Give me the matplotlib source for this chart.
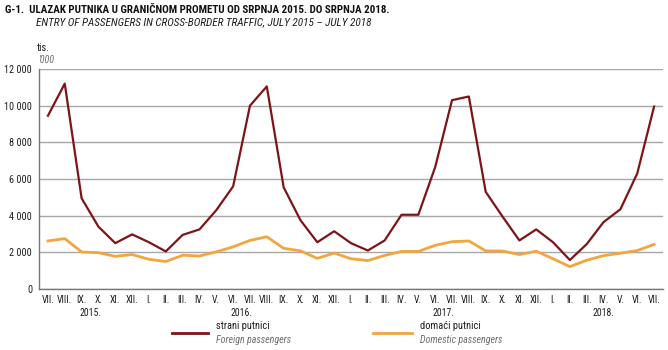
import matplotlib
matplotlib.use("Agg")
import matplotlib.pyplot as plt
import matplotlib.transforms as mtransforms
from matplotlib.lines import Line2D

plt.rcParams['font.family'] = ['Roboto Condensed', 'DejaVu Sans']

months = ["VII.", "VIII.", "IX.", "X.", "XI.", "XII.",
          "I.", "II.", "III.", "IV.", "V.", "VI.", "VII.", "VIII.", "IX.", "X.", "XI.", "XII.",
          "I.", "II.", "III.", "IV.", "V.", "VI.", "VII.", "VIII.", "IX.", "X.", "XI.", "XII.",
          "I.", "II.", "III.", "IV.", "V.", "VI.", "VII."]
years = ["2015.", "2016.", "2017.", "2018."]
year_centers = [2.5, 11.5, 23.5, 33.0]

foreign = [9450, 11200, 4950, 3400, 2500, 2980,
           2550, 2050, 2950, 3250, 4300, 5600, 10000, 11050, 5550, 3750, 2550, 3150,
           2500, 2100, 2650, 4050, 4050, 6650, 10300, 10500, 5300, 3950, 2650, 3250,
           2550, 1580, 2450, 3650, 4350, 6300, 9950]
domestic = [2620, 2750, 2020, 1980, 1780, 1880,
            1620, 1500, 1840, 1800, 2030, 2300, 2650, 2850, 2220, 2080, 1670, 1960,
            1650, 1550, 1830, 2050, 2050, 2380, 2580, 2620, 2080, 2070, 1880, 2060,
            1650, 1220, 1570, 1820, 1950, 2100, 2430]
yticks = [0, 2000, 4000, 6000, 8000, 10000, 12000]
ytick_labels = ["0", "2 000", "4 000", "6 000", "8 000", "10 000", "12 000"]

C_FOR = "#7d1518"
C_DOM = "#f2a540"
TXT = "#1e1e1e"
GREY = "#6e6e6e"

W, H = 668, 350
fig = plt.figure(figsize=(W / 100, H / 100), dpi=100)
ax = fig.add_axes([39 / W, 1 - 289 / H, (663 - 39) / W, (289 - 69) / H])

x = list(range(len(months)))
ax.plot(x, foreign, color=C_FOR, lw=1.6, zorder=3)
ax.plot(x, domestic, color=C_DOM, lw=2.0, zorder=3)

ax.set_xlim(-0.53, 36.53)
ax.set_ylim(0, 12000)
ax.set_yticks(yticks)
ax.set_yticklabels(ytick_labels, fontsize=7.3, color=TXT)
ax.set_xticks(x)
ax.set_xticklabels(months, fontsize=7, color=TXT)
ax.tick_params(axis='y', length=0, pad=5)
ax.tick_params(axis='x', length=0, pad=4)
ax.yaxis.grid(True, color="#a8a8a8", lw=1.0)
ax.set_axisbelow(True)
for s in ["top", "right"]:
    ax.spines[s].set_visible(False)
for s in ["left", "bottom"]:
    ax.spines[s].set_color("#777777")
    ax.spines[s].set_linewidth(1.0)

trans = mtransforms.blended_transform_factory(ax.transData, fig.transFigure)
for yl, xc in zip(years, year_centers):
    ax.text(xc, 1 - 313 / H, yl, transform=trans, ha='center', va='center', fontsize=7, color=TXT)

fig.text(5 / W, 1 - 10 / H, "G-1.  ULAZAK PUTNIKA U GRANIČNOM PROMETU OD SRPNJA 2015. DO SRPNJA 2018.",
         fontsize=7.9, fontweight='bold', ha='left', va='center', color="#111111")
fig.text(36 / W, 1 - 22 / H, "ENTRY OF PASSENGERS IN CROSS-BORDER TRAFFIC, JULY 2015 \u2013 JULY 2018",
         fontsize=8.1, style='italic', ha='left', va='center', color=TXT)
fig.text(37 / W, 1 - 48 / H, "tis.", fontsize=7.5, ha='left', va='center', color=TXT)
fig.text(38 / W, 1 - 60 / H, "'000", fontsize=7.2, style='italic', ha='left', va='center', color=GREY)

# legend
fig.add_artist(Line2D([172 / W, 208 / W], [1 - 333 / H, 1 - 333 / H], color=C_FOR, lw=2.0, transform=fig.transFigure))
fig.text(216 / W, 1 - 326 / H, "strani putnici", fontsize=7.5, ha='left', va='center', color=TXT)
fig.text(216 / W, 1 - 340 / H, "Foreign passengers", fontsize=7.2, style='italic', ha='left', va='center', color=GREY)
fig.add_artist(Line2D([373 / W, 412 / W], [1 - 333 / H, 1 - 333 / H], color=C_DOM, lw=2.0, transform=fig.transFigure))
fig.text(420 / W, 1 - 326 / H, "domaći putnici", fontsize=7.5, ha='left', va='center', color=TXT)
fig.text(420 / W, 1 - 340 / H, "Domestic passengers", fontsize=7.2, style='italic', ha='left', va='center', color=GREY)

fig.savefig("out.png", dpi=100)
